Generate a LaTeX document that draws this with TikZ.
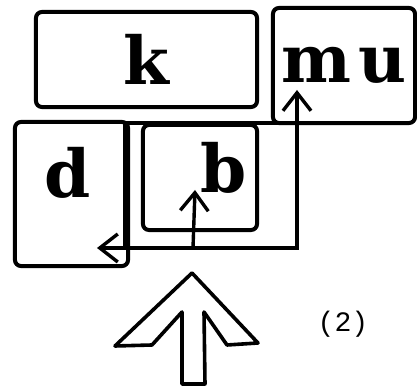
\documentclass[tikz,border=0pt]{standalone}
\usepackage{fontspec}
\usepackage{tikz}
\usetikzlibrary{arrows.meta, positioning}
\newfontfamily\slabfont{DejaVu Serif}
\newfontfamily\typefont{Liberation Mono}

\begin{document}
\begin{tikzpicture}[x=0.025cm, y=-0.025cm,
  box/.style={rectangle, rounded corners=0.15cm, draw=black, line width=0.1cm, inner sep=0pt},
  plainbox/.style={rectangle, draw=black, line width=0.11cm, inner sep=0pt},
  lbl/.style={font=\slabfont\bfseries\fontsize{47}{47}\selectfont, inner sep=0pt},
  arrow/.style={-{Straight Barb[length=0.45cm, width=0.7cm]}, line width=0.085cm},
  bigarrow/.style={line width=0.09cm, line join=round}
]
\useasboundingbox (0,0) rectangle (417,386);

% boxes
\node[box, minimum width=5.525cm, minimum height=2.375cm, font=\slabfont\bfseries\fontsize{47}{47}\selectfont] (k) at (146.5,59.5) {k};
\node[box, minimum width=3.55cm, minimum height=2.875cm, font=\slabfont\bfseries\fontsize{47}{47}\selectfont] (mu) at (344,65.5) {m\kern0.2cm u};
\node[box, minimum width=2.825cm, minimum height=3.6cm] (d) at (71.5,194) {};
\node[plainbox, minimum width=4.3cm, minimum height=3.125cm] (outer) at (211,185.5) {};
\node[box, minimum width=2.85cm, minimum height=2.625cm] (inner) at (200,177.5) {};

% letters
\node[lbl, anchor=base] (dl) at (68,198) {d};
\node[lbl, anchor=base] (bl) at (224,193) {b};

% connectors
\coordinate (fork) at (193,248);
\coordinate (btip) at (195,190);
\coordinate (dtip) at (97,248);
\coordinate (mutip) at (297,90);
\draw[arrow] (fork) -- (btip);
\draw[arrow] (fork) -- (dtip);
\draw[arrow] (fork) -| (mutip);

% big arrow
\draw[bigarrow] (192,273) -- (258,343) -- (227,345) -- (204,312) -- (205,384)
  -- (182,384) -- (182,312) -- (152,345) -- (115,346) -- cycle;

\node[font=\typefont\fontsize{20}{20}\selectfont] (two) at (343,324) {(2)};
\end{tikzpicture}
\end{document}
